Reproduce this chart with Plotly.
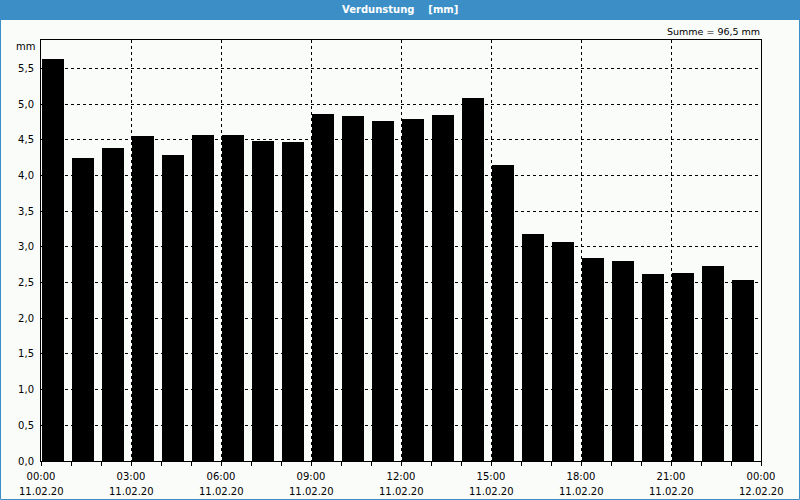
import plotly.graph_objects as go

hours = list(range(24))
values = [5.63, 4.25, 4.39, 4.56, 4.29, 4.57, 4.57, 4.49, 4.47, 4.86, 4.83, 4.77,
          4.79, 4.85, 5.09, 4.15, 3.18, 3.07, 2.84, 2.80, 2.62, 2.63, 2.73, 2.53]
tick_hours = [0, 3, 6, 9, 12, 15, 18, 21, 24]
tick_times = ["00:00", "03:00", "06:00", "09:00", "12:00", "15:00", "18:00", "21:00", "00:00"]
tick_dates = ["11.02.20", "11.02.20", "11.02.20", "11.02.20", "11.02.20",
              "11.02.20", "11.02.20", "11.02.20", "12.02.20"]
y_ticks = [0, 0.5, 1, 1.5, 2, 2.5, 3, 3.5, 4, 4.5, 5, 5.5]
title = "Verdunstung    [mm]"
summe = "Summe = 96,5 mm"

W, H = 800, 500
L, R, T, B = 41, 39, 40, 39
pw, ph = W - L - R, H - T - B

def px(x):
    return (x - L) / pw

def py(y):
    return (H - B - y) / ph

BLUE = "#3b8fc6"
BG = "#fafcfa"
FONT = "DejaVu Sans"

fig = go.Figure(go.Bar(
    x=[h + 0.4 for h in hours], y=values, width=0.73,
    marker=dict(color="#000000", line=dict(width=0)),
))

shapes = [
    dict(type="rect", xref="paper", yref="paper", x0=px(0), x1=px(W), y0=py(20), y1=py(0),
         fillcolor=BLUE, line=dict(width=0), layer="above"),
    dict(type="rect", xref="paper", yref="paper", x0=px(0.5), x1=px(W - 0.5), y0=py(H - 0.5), y1=py(0.5),
         line=dict(color=BLUE, width=1), fillcolor="rgba(0,0,0,0)", layer="above"),
]

annotations = [
    dict(text="<b>" + title + "</b>", xref="paper", yref="paper", x=px(400), y=py(10),
         showarrow=False, font=dict(color="#ffffff", size=10, family=FONT),
         xanchor="center", yanchor="middle"),
    dict(text=summe, xref="paper", yref="paper", x=px(762), y=py(32),
         showarrow=False, font=dict(size=9.5, family=FONT),
         xanchor="right", yanchor="middle"),
    dict(text="mm", xref="paper", yref="paper", x=px(37), y=py(46),
         showarrow=False, font=dict(size=10, family=FONT),
         xanchor="right", yanchor="middle"),
]
for h, d in zip(tick_hours, tick_dates):
    annotations.append(dict(text=d, xref="x", yref="paper", x=h, y=py(491),
                            showarrow=False, font=dict(size=10, family=FONT),
                            xanchor="center", yanchor="middle"))

fig.update_layout(
    width=W, height=H,
    margin=dict(l=L, r=R, t=T, b=B, pad=0),
    paper_bgcolor=BG, plot_bgcolor=BG,
    separators=",.",
    showlegend=False,
    bargap=0,
    font=dict(family=FONT, size=10, color="#000000"),
    shapes=shapes,
    xaxis=dict(range=[0, 24], tickmode="array", tickvals=tick_hours, ticktext=tick_times,
               automargin=False,
               showgrid=True, gridcolor="#000000", griddash="3px,3px", gridwidth=1,
               showline=True, linecolor="#000000", linewidth=1, mirror=True,
               ticks="outside", ticklen=4, tickcolor="#000000", ticklabelstandoff=2,
               minor=dict(dtick=1, tick0=0, ticks="outside", ticklen=4, tickcolor="#000000", showgrid=False),
               zeroline=False, fixedrange=True),
    yaxis=dict(range=[0, 5.9], tickmode="array", tickvals=y_ticks, tickformat=".1f",
               automargin=False,
               showgrid=True, gridcolor="#000000", griddash="3px,3px", gridwidth=1,
               showline=True, linecolor="#000000", linewidth=1, mirror=True,
               ticks="", ticklabelstandoff=4,
               zeroline=False, fixedrange=True),
    annotations=annotations,
)

fig.write_html("out.html")
